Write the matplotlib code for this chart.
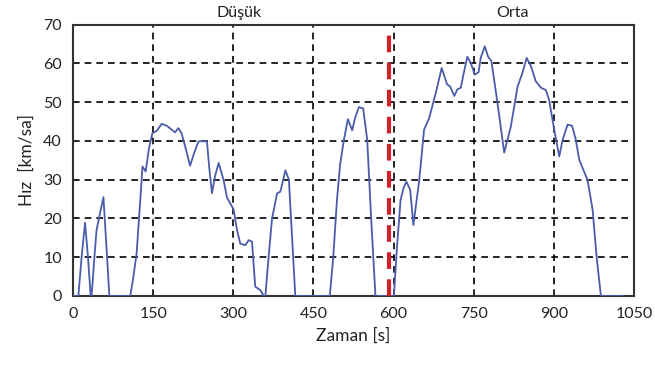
import matplotlib
matplotlib.use("Agg")
import matplotlib.pyplot as plt

plt.rcParams['font.family'] = ['Lato', 'DejaVu Sans']

time_s = [0, 10, 16, 22.5, 28, 33, 34.7, 40, 44, 50, 56.9, 62, 68,
          107, 112, 119, 125, 130, 136, 142, 148.5, 156, 166, 175.6, 191, 197, 203,
          211, 219, 227, 235, 250.6, 255, 260, 266, 272.5, 282, 288, 297.5, 300.6, 307,
          313, 322.5, 328.8, 335, 341, 350.6, 357,
          360, 366, 372.5, 382, 388, 397.5, 404, 410, 416,
          480.6, 487, 494, 500, 507, 514.4, 522.5, 528, 535, 543, 550.6, 558, 566,
          600.6, 606, 613, 619, 624, 631, 637, 648, 657, 666.6, 679, 690, 700, 706,
          713.6, 719.4, 725.6, 731.9, 738, 744.4, 752, 759, 763, 770.6, 777, 783,
          794.4, 807, 819.4, 832, 841, 849, 857, 866, 876, 885, 891, 900.6, 910,
          916.4, 925.6, 934, 941, 947.5, 963, 972.5, 980, 988, 1028]
speed_kmh = [0, 0, 10, 18.9, 10, 0, 0, 10, 17, 21, 25.5, 14, 0,
             0, 4, 11, 23, 33.4, 32.1, 38, 42, 42.5, 44.4, 43.9, 42.2, 43.3, 42,
             38, 33.6, 37, 39.9, 39.9, 33, 26.5, 31, 34.3, 29.8, 25.4, 23.1, 22.2, 17,
             13.5, 13.1, 14.4, 14, 2.4, 1.5, 0,
             0, 10, 20, 26.5, 26.9, 32.4, 30, 15, 0,
             0, 10, 24.8, 34, 40.3, 45.6, 42.7, 46, 48.7, 48.4, 40.3, 20, 0,
             0, 12, 24.8, 28, 29.5, 27.4, 18.3, 29.9, 42.9, 45.9, 52.4, 58.8, 54.6, 54,
             51.6, 53.3, 53.7, 57.9, 61.7, 60.1, 57.1, 57.7, 61.4, 64.4, 61.7, 60.6,
             49.8, 37, 43.7, 54, 57.5, 61.4, 59.3, 55.4, 53.7, 53.1, 50.6, 42.9, 36,
             40.3, 44.2, 43.9, 40.3, 35.1, 29.9, 22.2, 10, 0, 0]

x_ticks = [0, 150, 300, 450, 600, 750, 900, 1050]
y_ticks = [0, 10, 20, 30, 40, 50, 60, 70]
boundary_s = 592
segment_labels = ["Düşük", "Orta"]
segment_label_x = [310, 823]

fig = plt.figure(figsize=(6.55, 3.67), dpi=100)
ax = fig.add_axes([0.1115, 0.1935, 0.8565, 0.7395])

ax.plot(time_s, speed_kmh, color='#4b5cab', lw=1.3, zorder=3)
ax.plot([boundary_s, boundary_s], [0, 70], color='#d0202a', lw=3,
        dashes=(4, 2.5), zorder=4)

ax.set_xlim(0, 1050)
ax.set_ylim(0, 70)
ax.set_xticks(x_ticks)
ax.set_yticks(y_ticks)
ax.tick_params(length=0, labelsize=11.5, colors='#222222', pad=8)
ax.grid(True, color='black', linestyle=(0, (4, 3)), lw=1.2)
for s in ax.spines.values():
    s.set_color('#333333')
    s.set_linewidth(1.5)

ax.set_xlabel("Zaman [s]", fontsize=12.5, color='#222222', labelpad=5)
ax.set_ylabel("Hız  [km/sa]", fontsize=12.5, color='#222222', labelpad=6)

for lbl, xv in zip(segment_labels, segment_label_x):
    ax.text(xv, 71.2, lbl, ha='center', va='bottom', fontsize=11.5, color='#222222')

fig.savefig("out.png", dpi=100)
